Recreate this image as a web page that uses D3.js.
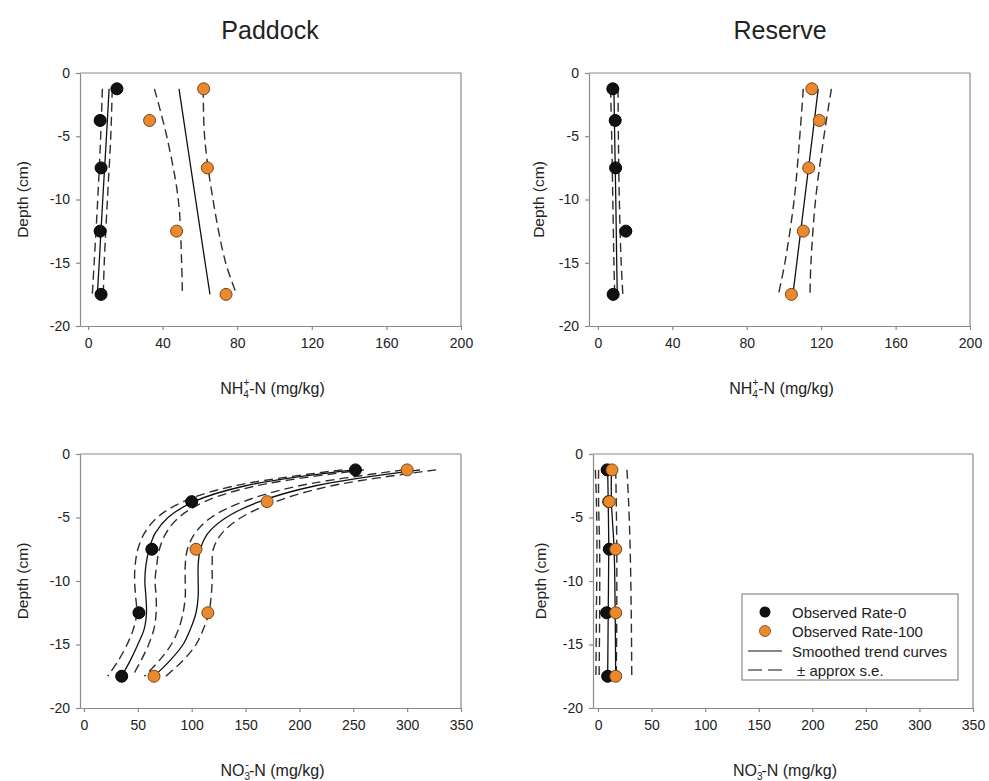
<!DOCTYPE html>
<html>
<head>
<meta charset="utf-8">
<script src="https://cdn.jsdelivr.net/npm/d3@7"></script>
<style>
html,body{margin:0;padding:0;background:#fff;}
svg{display:block;font-family:"Liberation Sans",Arial,sans-serif;}
</style>
</head>
<body>
<svg id="chart" width="989" height="781"></svg>
<script>
// ---------- DATA ----------
const obsDepths = [-1.25, -3.75, -7.5, -12.5, -17.5];
const yTicks = [0, -5, -10, -15, -20];
const xTicksNH4 = [0, 40, 80, 120, 160, 200];
const xTicksNO3 = [0, 50, 100, 150, 200, 250, 300, 350];
const columnTitles = ["Paddock", "Reserve"];

// NH4+ Paddock
const nh4PaddockRate0 = [15.5, 6.5, 7, 6.5, 7];
const nh4PaddockRate100 = [62, 33, 64, 47.5, 74];
// NH4+ Reserve
const nh4ReserveRate0 = [8, 9.3, 9.5, 15, 8.2];
const nh4ReserveRate100 = [115, 119, 113.3, 110.4, 104];
// NO3- Paddock
const no3PaddockRate0 = [252, 100, 63, 51, 35];
const no3PaddockRate100 = [300, 170, 104, 115, 65];
// NO3- Reserve
const no3ReserveRate0 = [8.5, 10, 10.5, 8, 9];
const no3ReserveRate100 = [13, 10.5, 16.5, 16.5, 16.5];

// Smoothed trend curves and +/- approx s.e.
const nh4CurveDepths = [-1.25, -5, -10, -15, -17.5];
const nh4PaddockFit0 = [11.3, 9.9, 7.9, 6.0, 5.0];
const nh4PaddockLo0 = [7.7, 6.8, 5.2, 3.3, 2.3];
const nh4PaddockHi0 = [13.0, 12.2, 10.4, 8.7, 8.2];
const nh4PaddockFit100 = [48.8, 52.6, 57.7, 62.8, 65.4];
const nh4PaddockLo100 = [35.6, 42.2, 48.4, 50.2, 50.6];
const nh4PaddockHi100 = [61.8, 62.5, 67, 73.8, 79.7];

const nh4ReserveFit0 = [8.6, 9.0, 9.6, 10.1, 10.4];
const nh4ReserveLo0 = [6.8, 7.4, 8.0, 8.6, 9.0];
const nh4ReserveHi0 = [10.8, 11.0, 11.5, 12.5, 13.4];
const nh4ReserveFit100 = [118.4, 115.3, 111.1, 106.9, 104.8];
const nh4ReserveLo100 = [110.4, 108.5, 105.5, 100.5, 97];
const nh4ReserveHi100 = [125.5, 121.5, 117, 114.5, 114];

const no3PaddockCurveDepths = [-1.25, -2.5, -3.75, -5, -6.25, -7.5, -8.75, -10, -11.25, -12.5, -13.75, -15, -16.25, -17.5];
const no3PaddockFit0 = [250, 150, 102, 78, 66, 60.5, 57.5, 56.5, 57.5, 58, 56, 50, 43, 35];
const no3PaddockLo0 = [240, 140, 92, 68, 56, 50, 47.5, 47, 48, 49, 46, 40, 32, 22];
const no3PaddockHi0 = [260, 160, 112, 88, 76, 70, 67.5, 66, 67, 67, 65, 60, 53, 45];
const no3PaddockFit100 = [312, 215, 163, 132, 115, 108, 106, 106, 106, 104, 99, 92, 80, 65];
const no3PaddockLo100 = [297, 200, 148, 118, 103, 96, 94, 94, 94, 92, 88, 81, 70, 56];
const no3PaddockHi100 = [327, 230, 178, 146, 128, 120, 119, 119, 118, 116, 111, 104, 92, 76];

const no3ReserveCurveDepths = [-1.25, -3.75, -7.5, -12.5, -17.5];
const no3ReserveFit0 = [9, 9.5, 10, 9.5, 9];
const no3ReserveLo0 = [-2.5, -1.5, -1, -1.5, -2];
const no3ReserveHi0 = [16.5, 17, 17.5, 17.5, 17];
const no3ReserveFit100 = [12.5, 12.5, 15, 16, 16.5];
const no3ReserveLo100 = [0.5, 0.5, 1.5, 1.5, 1];
const no3ReserveHi100 = [27, 28.5, 30, 31, 31.5];

const legendLabels = ["Observed Rate-0", "Observed Rate-100", "Smoothed trend curves", "\u00b1 approx s.e."];

// ---------- STYLE ----------
const ORANGE = "#ea8a2e";
const ORANGE_EDGE = "#7a4312";
const BLACK = "#111";
const AXIS = "#8a8a8a";
const TEXT = "#222";
const FONT = '"Liberation Sans", Arial, sans-serif';

const svg = d3.select("#chart");

const panels = [
  {title: columnTitles[0], x0: 80, x1: 461, y0: 73, y1: 326, xmin: -4.3, xmax: 200, xTicks: xTicksNH4, label: "NH4",
   yLabelX: 22, titleX: 270,
   curveDepths: nh4CurveDepths,
   curves: [[nh4PaddockFit0, nh4PaddockLo0, nh4PaddockHi0], [nh4PaddockFit100, nh4PaddockLo100, nh4PaddockHi100]],
   obs: [nh4PaddockRate0, nh4PaddockRate100]},
  {title: columnTitles[1], x0: 589, x1: 970, y0: 73, y1: 326, xmin: -4.8, xmax: 200, xTicks: xTicksNH4, label: "NH4",
   yLabelX: 538, titleX: 780,
   curveDepths: nh4CurveDepths,
   curves: [[nh4ReserveFit0, nh4ReserveLo0, nh4ReserveHi0], [nh4ReserveFit100, nh4ReserveLo100, nh4ReserveHi100]],
   obs: [nh4ReserveRate0, nh4ReserveRate100]},
  {x0: 80, x1: 461, y0: 454, y1: 708, xmin: -3.7, xmax: 350, xTicks: xTicksNO3, label: "NO3",
   yLabelX: 22,
   curveDepths: no3PaddockCurveDepths,
   curves: [[no3PaddockFit0, no3PaddockLo0, no3PaddockHi0], [no3PaddockFit100, no3PaddockLo100, no3PaddockHi100]],
   obs: [no3PaddockRate0, no3PaddockRate100]},
  {x0: 593, x1: 973, y0: 454, y1: 708, xmin: -4.7, xmax: 350, xTicks: xTicksNO3, label: "NO3",
   yLabelX: 540, legend: true,
   curveDepths: no3ReserveCurveDepths,
   curves: [[no3ReserveFit0, no3ReserveLo0, no3ReserveHi0], [no3ReserveFit100, no3ReserveLo100, no3ReserveHi100]],
   obs: [no3ReserveRate0, no3ReserveRate100]}
];

panels.forEach(p => {
  const x = d3.scaleLinear().domain([p.xmin, p.xmax]).range([p.x0, p.x1]);
  const y = d3.scaleLinear().domain([0, -20]).range([p.y0, p.y1]);
  const g = svg.append("g");

  // frame top/right
  g.append("line").attr("x1", p.x0).attr("x2", p.x1).attr("y1", p.y0).attr("y2", p.y0)
    .attr("stroke", AXIS).attr("stroke-width", 1.2);
  g.append("line").attr("x1", p.x1).attr("x2", p.x1).attr("y1", p.y0).attr("y2", p.y1)
    .attr("stroke", AXIS).attr("stroke-width", 1.2);

  // axes
  const xa = g.append("g").attr("transform", `translate(0,${p.y1})`)
    .call(d3.axisBottom(x).tickValues(p.xTicks).tickSize(4).tickSizeOuter(0).tickPadding(8).tickFormat(d3.format("d")));
  const ya = g.append("g").attr("transform", `translate(${p.x0},0)`)
    .call(d3.axisLeft(y).tickValues(yTicks).tickSize(4).tickSizeOuter(0).tickPadding(6).tickFormat(d => d === 0 ? "0" : "-" + Math.abs(d)));
  [xa, ya].forEach(a => {
    a.select(".domain").attr("stroke", AXIS).attr("stroke-width", 1.2);
    a.selectAll(".tick line").attr("stroke", AXIS).attr("stroke-width", 1.2);
    a.selectAll(".tick text").attr("fill", TEXT).style("font-size", "14px").style("font-family", FONT);
  });

  // y label
  const ymid = (p.y0 + p.y1) / 2;
  g.append("text").attr("transform", `translate(${p.yLabelX},${ymid}) rotate(-90)`)
    .attr("text-anchor", "middle").attr("dominant-baseline", "central")
    .attr("fill", TEXT).style("font-size", "15.5px").text("Depth (cm)");

  // x label
  const xmid = (p.x0 + p.x1) / 2 + 2;
  const xl = g.append("text").attr("x", xmid).attr("y", p.y1 + 68)
    .attr("text-anchor", "middle").attr("fill", TEXT).style("font-size", "16px");
  if (p.label === "NH4") {
    xl.append("tspan").text("NH");
    xl.append("tspan").attr("dy", 4).style("font-size", "10px").text("4");
    xl.append("tspan").attr("dx", -5.5).attr("dy", -12).style("font-size", "10px").text("+");
    xl.append("tspan").attr("dy", 8).text("-N (mg/kg)");
  } else {
    xl.append("tspan").text("NO");
    xl.append("tspan").attr("dy", 4).style("font-size", "10px").text("3");
    xl.append("tspan").attr("dx", -4.5).attr("dy", -12).style("font-size", "10px").text("-");
    xl.append("tspan").attr("dy", 8).text("-N (mg/kg)");
  }

  // title
  if (p.title) {
    g.append("text").attr("x", p.titleX).attr("y", 39).attr("text-anchor", "middle")
      .attr("fill", TEXT).style("font-size", "25px").text(p.title);
  }

  // curves
  const line = d3.line().x(d => x(d[0])).y(d => y(d[1])).curve(d3.curveCatmullRom.alpha(0.5));
  p.curves.forEach(set => {
    const [fit, lo, hi] = set;
    [lo, hi].forEach(arr => {
      g.append("path").attr("d", line(arr.map((v, i) => [v, p.curveDepths[i]])))
        .attr("fill", "none").attr("stroke", "#2e2e2e").attr("stroke-width", 1.4)
        .attr("stroke-dasharray", "9,5");
    });
    g.append("path").attr("d", line(fit.map((v, i) => [v, p.curveDepths[i]])))
      .attr("fill", "none").attr("stroke", BLACK).attr("stroke-width", 1.3);
  });

  // observed points
  p.obs.forEach((vals, k) => {
    g.selectAll(null).data(vals.map((v, i) => [v, obsDepths[i]])).enter().append("circle")
      .attr("cx", d => x(d[0])).attr("cy", d => y(d[1])).attr("r", 6)
      .attr("fill", k === 0 ? BLACK : ORANGE)
      .attr("stroke", k === 0 ? "#000" : ORANGE_EDGE).attr("stroke-width", 1);
  });

  // legend
  if (p.legend) {
    const lg = svg.append("g");
    lg.append("rect").attr("x", 742).attr("y", 594).attr("width", 216).attr("height", 86)
      .attr("fill", "#fff").attr("stroke", AXIS).attr("stroke-width", 1.2);
    const rows = [612, 631, 651, 670];
    lg.append("circle").attr("cx", 765).attr("cy", rows[0]).attr("r", 5.5).attr("fill", BLACK);
    lg.append("circle").attr("cx", 765).attr("cy", rows[1]).attr("r", 5.5).attr("fill", ORANGE).attr("stroke", ORANGE_EDGE).attr("stroke-width", 0.8);
    lg.append("line").attr("x1", 748).attr("x2", 782).attr("y1", rows[2]).attr("y2", rows[2]).attr("stroke", BLACK).attr("stroke-width", 1.2);
    lg.append("line").attr("x1", 748).attr("x2", 782).attr("y1", rows[3]).attr("y2", rows[3]).attr("stroke", BLACK).attr("stroke-width", 1.2).attr("stroke-dasharray", "14,6");
    legendLabels.forEach((t, i) => {
      lg.append("text").attr("x", i === 3 ? 797 : 792).attr("y", rows[i]).attr("dominant-baseline", "central")
        .attr("fill", TEXT).style("font-size", "15px").text(t);
    });
  }
});
</script>
</body>
</html>
